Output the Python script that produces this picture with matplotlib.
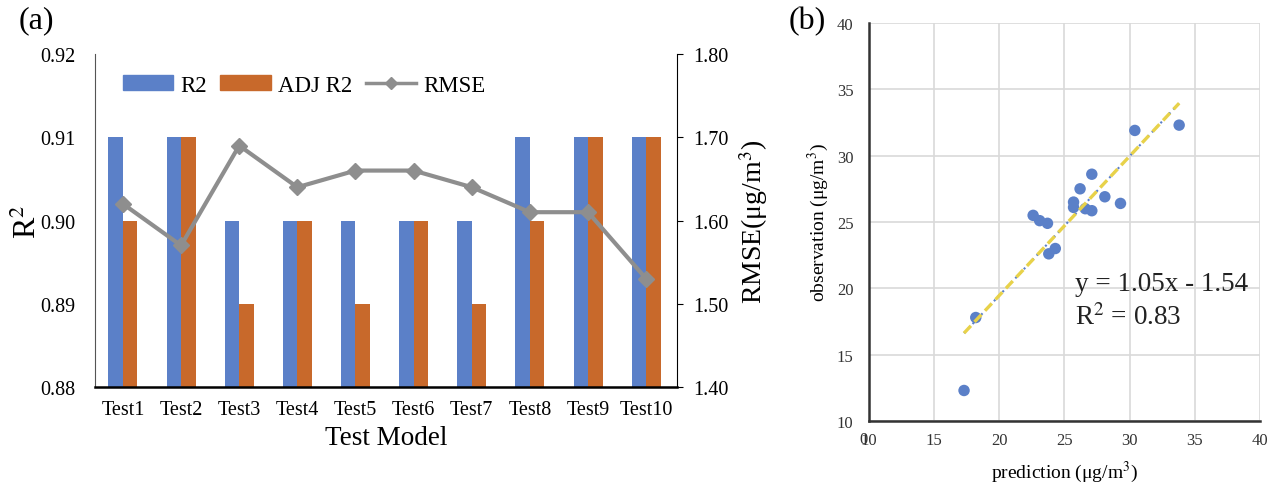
import numpy as np
import matplotlib
matplotlib.use("Agg")
import matplotlib.pyplot as plt
from matplotlib.lines import Line2D
from matplotlib.patches import Patch

plt.rcParams['font.family'] = ['Liberation Serif', 'DejaVu Serif']
plt.rcParams['mathtext.fontset'] = 'stix'

# panel (a) data
tests = ["Test1", "Test2", "Test3", "Test4", "Test5", "Test6", "Test7", "Test8", "Test9", "Test10"]
r2 = [0.91, 0.91, 0.90, 0.90, 0.90, 0.90, 0.90, 0.91, 0.91, 0.91]
adj_r2 = [0.90, 0.91, 0.89, 0.90, 0.89, 0.90, 0.89, 0.90, 0.91, 0.91]
rmse = [1.62, 1.57, 1.69, 1.64, 1.66, 1.66, 1.64, 1.61, 1.61, 1.53]

# panel (b) data
prediction = [17.3, 18.2, 22.6, 23.1, 23.7, 23.8, 24.3, 25.7, 25.7, 26.2, 26.6,
              27.1, 27.1, 28.1, 29.3, 30.4, 33.8]
observation = [12.3, 17.8, 25.5, 25.1, 24.9, 22.6, 23.0, 26.5, 26.1, 27.5, 26.0,
               28.6, 25.85, 26.9, 26.4, 31.9, 32.3]
slope, intercept = 1.05, -1.54

blue = "#5b80c8"
orange = "#c8692b"
gray = "#8e8e8e"

fig = plt.figure(figsize=(12.74, 4.89), dpi=100)

# ---------- (a) ----------
ax = fig.add_axes([0.0746, 0.2065, 0.4568, 0.681])
x = np.arange(len(tests))
w = 0.25
ax.bar(x - w / 2, r2, width=w, color=blue, zorder=2)
ax.bar(x + w / 2, adj_r2, width=w, color=orange, zorder=2)
ax.set_ylim(0.88, 0.92)
ax.set_yticks([0.88, 0.89, 0.90, 0.91, 0.92])
ax.set_yticklabels(["0.88", "0.89", "0.90", "0.91", "0.92"])
ax.set_xlim(-0.48, 9.53)
ax.set_xticks(x)
ax.set_xticklabels(tests)
ax.tick_params(axis='y', length=0, pad=14, labelsize=14.5)
ax.tick_params(axis='x', length=0, pad=9, labelsize=14.5)
ax.spines['top'].set_visible(False)
ax.spines['right'].set_visible(False)
ax.spines['left'].set_color("#555555")
ax.spines['bottom'].set_linewidth(1.8)
ax.set_xlabel("Test Model", fontsize=19.5, labelpad=5)
ax.set_ylabel("R$^2$", fontsize=23, labelpad=-2)

ax2 = ax.twinx()
ax2.plot(x, rmse, color=gray, lw=3, marker="D", markersize=8, zorder=3)
ax2.set_ylim(1.40, 1.80)
ax2.set_yticks([1.40, 1.50, 1.60, 1.70, 1.80])
ax2.set_yticklabels(["1.40", "1.50", "1.60", "1.70", "1.80"])
ax2.tick_params(axis='y', length=4, pad=8, labelsize=14.5)
ax2.spines['top'].set_visible(False)
ax2.spines['left'].set_visible(False)
ax2.spines['bottom'].set_visible(False)
ax2.set_ylabel("RMSE(μg/m$^3$)", fontsize=20, labelpad=6)

handles = [Patch(color=blue), Patch(color=orange),
           Line2D([], [], color=gray, lw=2.5, marker="D", markersize=6)]
ax.legend(handles, ["R2", "ADJ R2", "RMSE"], loc="upper left", ncol=3,
          frameon=False, fontsize=16.5, bbox_to_anchor=(0.012, 1.0),
          handlelength=2.2, handleheight=0.6, columnspacing=0.6, handletextpad=0.3)

fig.text(0.015, 0.958, "(a)", fontsize=23, va="center")

# ---------- (b) ----------
bx = fig.add_axes([0.682, 0.137, 0.307, 0.814])
bx.grid(True, color="#d9d9d9", lw=1.2, zorder=0)
bx.set_xlim(10, 40)
bx.set_ylim(10, 40)
bx.set_xticks(np.arange(10, 41, 5))
bx.set_yticks(np.arange(10, 41, 5))
bx.tick_params(length=0, labelsize=12, colors="#333333")
bx.tick_params(axis='y', pad=11)
bx.tick_params(axis='x', pad=8)
for s in ['top', 'right']:
    bx.spines[s].set_visible(False)
bx.spines['left'].set_color("#333333")
bx.spines['left'].set_linewidth(1.8)
bx.spines['bottom'].set_color("#333333")
bx.spines['bottom'].set_linewidth(1.8)

bx.scatter(prediction, observation, s=68, color="#5b80c8", zorder=3, edgecolors="none")
xl = np.array([min(prediction), max(prediction)])
yl = slope * xl + intercept
bx.plot(xl, yl, color="#5b80c8", lw=1.5, ls=(0, (1, 2)), zorder=4)
bx.plot(xl, yl, color="#e8d24a", lw=2.4, ls=(0, (3, 1.6)), zorder=4)

bx.text(25.8, 20.4, "y = 1.05x - 1.54", fontsize=19.5, va="center", color="#222222")
bx.text(25.8, 17.85, "R$^2$ = 0.83", fontsize=19.5, va="center", color="#222222")

bx.set_xlabel("prediction (μg/m$^3$)", fontsize=14, labelpad=8)
bx.set_ylabel("observation (μg/m$^3$)", fontsize=14, labelpad=4)
bx.text(-0.014, -0.045, "0", transform=bx.transAxes, fontsize=12,
        ha="center", va="center", color="#333333")

fig.text(0.619, 0.955, "(b)", fontsize=23, va="center")

fig.savefig("out.png", dpi=100)
